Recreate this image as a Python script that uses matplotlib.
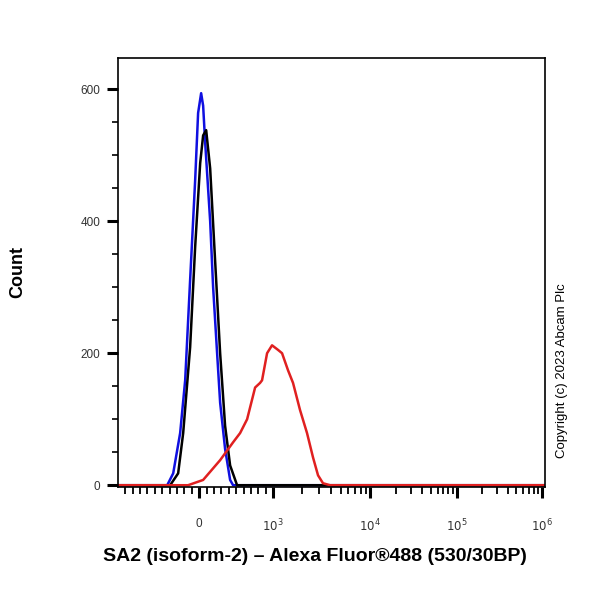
import matplotlib
matplotlib.use('Agg')
import matplotlib.pyplot as plt
import numpy as np

plt.rcParams['font.family'] = ['Liberation Sans', 'DejaVu Sans']

# histogram traces: fluorescence value, count
blue_x = [-1095, -432, -351, -257, -189, -122, -54, -14, 27, 54, 81, 149, 189, 243, 284, 351, 419, 459, 1.1e6]
blue_y = [0, 0, 18, 79, 159, 311, 462, 564, 594, 575, 520, 400, 300, 200, 125, 55, 8, 0, 0]

black_x = [-1095, -392, -284, -216, -122, -54, 14, 54, 95, 149, 216, 284, 351, 419, 513, 1.1e6]
black_y = [0, 0, 18, 79, 209, 361, 488, 530, 538, 480, 340, 200, 90, 30, 0, 0]

red_x = [-1095, -150, 54, 284, 459, 554, 649, 757, 824, 851, 919, 986,
         1126, 1238, 1428, 1607, 1897, 2241, 2585, 2911, 3275, 3875, 1.1e6]
red_y = [0, 0, 8, 38, 65, 79, 100, 148, 155, 159, 200, 212,
         205, 200, 174, 155, 114, 79, 42, 15, 3, 0, 0]

major_ticks = [0, 1e3, 1e4, 1e5, 1e6]
major_labels = ['0', r'$10^3$', r'$10^4$', r'$10^5$', r'$10^6$']

# biexponential-like display scale: linear around zero, log above 10^3
lin_slope = 0.074
dec_exp = [3, 4, 5, 6, 7]
dec_pos = [74, 171, 258, 343, 428]


def fwd(x):
    x = np.asarray(x, dtype=float)
    lin = lin_slope * x
    lg = np.interp(np.log10(np.maximum(x, 1000)), dec_exp, dec_pos)
    return np.where(x <= 1000, lin, lg)


def inv(s):
    s = np.asarray(s, dtype=float)
    lin = s / lin_slope
    lg = 10 ** np.interp(np.maximum(s, 74), dec_pos, dec_exp)
    return np.where(s <= 74, lin, lg)


fig = plt.figure(figsize=(6, 6), dpi=100)
ax = fig.add_axes([0.197, 0.188, 0.711, 0.715])

ax.plot(blue_x, blue_y, color='#1010e0', lw=1.8)
ax.plot(black_x, black_y, color='black', lw=1.8)
ax.plot(red_x, red_y, color='#e02020', lw=1.8)

ax.set_xscale('function', functions=(fwd, inv))
ax.set_xlim(-1095, 1.085e6)
ax.set_ylim(-3, 647)

minor = list(np.arange(-1000, 0, 100)) + list(np.arange(100, 1000, 100))
for d in [1e3, 1e4, 1e5]:
    minor += [d * k for k in range(2, 10)]
ax.set_xticks(major_ticks)
ax.set_xticklabels(major_labels)
ax.set_xticks(minor, minor=True)
ax.set_yticks([0, 200, 400, 600])
ax.set_yticks(np.arange(50, 650, 50), minor=True)

ax.tick_params(axis='x', which='major', length=8, width=2.2, pad=14, labelsize=8.5, labelcolor='#333333')
ax.tick_params(axis='x', which='minor', length=5, width=1.3)
ax.tick_params(axis='y', which='major', length=8, width=2.2, pad=5, labelsize=8.5, labelcolor='#333333')
ax.tick_params(axis='y', which='minor', length=4, width=1.2)
for sp in ax.spines.values():
    sp.set_linewidth(1.2)

fig.text(0.03, 0.547, 'Count', rotation=90, ha='center', va='center',
         fontsize=13, fontweight='bold')
fig.text(0.525, 0.072, 'SA2 (isoform-2) – Alexa Fluor®488 (530/30BP)',
         ha='center', va='center', fontsize=14, fontweight='bold')
fig.text(0.937, 0.383, 'Copyright (c) 2023 Abcam Plc', rotation=90,
         ha='center', va='center', fontsize=9.5)

fig.savefig('out.png', dpi=100)
